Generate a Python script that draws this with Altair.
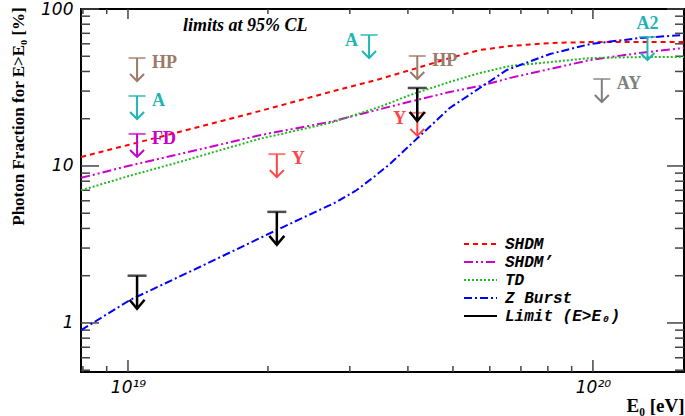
import altair as alt
import pandas as pd

# ---------------- data ----------------
series_names = ["SHDM", "SHDM’", "TD", "Z Burst", "Limit (E>E₀)"]
series_colors = ["#ff0000", "#cc00cc", "#22bb22", "#0000ff", "#000000"]
series_dash = [[5, 4], [9, 3, 2, 3, 2, 3], [2, 2], [8, 3, 2, 3], [1, 0]]

shdm_E = [7.93e18, 1.0e19, 1.5e19, 2.0e19, 2.72e19, 3.48e19, 4.19e19, 4.92e19,
          5.71e19, 6.64e19, 8.09e19, 9.86e19, 1.57e20]
shdm_f = [11.4, 13.6, 18.5, 23.1, 29.6, 35.8, 42.1, 48.7, 54.8, 58.1, 60.7, 61.6, 61.6]

shdm2_E = [7.93e18, 1.0e19, 1.5e19, 1.92e19, 2.72e19, 3.85e19, 4.92e19, 5.71e19,
           6.64e19, 8.09e19, 9.86e19, 1.26e20, 1.57e20]
shdm2_f = [8.4, 10.0, 13.2, 15.7, 19.1, 24.8, 29.6, 32.3, 36.4, 41.5, 47.3, 52.5, 56.5]

td_E = [7.93e18, 1.0e19, 1.29e19, 1.92e19, 2.72e19, 3.48e19, 4.04e19, 4.92e19,
        5.71e19, 6.64e19, 8.09e19, 9.86e19, 1.26e20, 1.57e20]
td_f = [7.0, 8.6, 10.6, 14.9, 18.8, 23.8, 28.3, 34.3, 39.1, 43.4, 45.9, 48.7, 49.4, 49.4]

zb_E = [7.93e18, 1.01e19, 1.43e19, 2.09e19, 2.81e19, 3.1e19, 3.36e19, 3.66e19, 4.19e19,
        4.92e19, 5.71e19, 6.53e19, 8.09e19, 9.86e19, 1.26e20, 1.57e20]
zb_f = [0.90, 1.40, 2.28, 3.91, 5.9, 7.0, 8.4, 10.3, 15.0, 23.4, 31.4, 40.9, 51.7, 59.8, 65.3, 68.3]

# Auger limits (E > E0), 95% CL
limit_E = [1.046e19, 2.09e19, 4.19e19]
limit_f = [2.0, 5.1, 31.4]

# other experiments' limits
exp_name = ["HP", "A", "FD", "Y", "A", "HP", "Y", "A2", "AY"]
exp_E = [1.046e19, 1.046e19, 1.046e19, 2.09e19, 3.30e19, 4.19e19, 4.19e19, 1.31e20, 1.045e20]
exp_f = [48.7, 27.9, 16.0, 11.9, 68.3, 50.2, 21.8, 66.3, 35.8]
exp_side = ["right", "right", "right", "right", "left", "right", "left", "above", "right"]
exp_domain = ["HP", "A", "FD", "Y", "A2", "AY"]
exp_colors = ["#9c7a6a", "#1fb5b5", "#c800c8", "#ff4444", "#1fb5b5", "#7f7f7f"]

# axis ticks / labels
x_label_values = [1e19, 1e20]
x_major = [1e19, 1e20]
x_minor = [8e18, 9e18, 2e19, 3e19, 4e19, 5e19, 6e19, 7e19, 8e19, 9e19]
y_major = [1, 10, 100]
y_minor = [0.5, 0.6, 0.7, 0.8, 0.9, 2, 3, 4, 5, 6, 7, 8, 9,
           20, 30, 40, 50, 60, 70, 80, 90]

# ---------------- frames ----------------
rows = []
for name, E, f in [(series_names[0], shdm_E, shdm_f), (series_names[1], shdm2_E, shdm2_f),
                   (series_names[2], td_E, td_f), (series_names[3], zb_E, zb_f)]:
    for e, v in zip(E, f):
        rows.append({"series": name, "E": e, "f": v})
lines_df = pd.DataFrame(rows)
limit_df = pd.DataFrame({"E": limit_E, "f": limit_f})
exp_df = pd.DataFrame({"name": exp_name, "E": exp_E, "f": exp_f, "side": exp_side})
xmaj_df = pd.DataFrame({"E": x_major})
xmin_df = pd.DataFrame({"E": x_minor})
ymaj_df = pd.DataFrame({"f": y_major})
ymin_df = pd.DataFrame({"f": y_minor})

W, H = 603, 363
xs = alt.Scale(type="log", domain=[7.924e18, 1.570e20], nice=False)
ys = alt.Scale(type="log", domain=[0.487, 100], nice=False)

x_axis = alt.Axis(values=x_label_values,
                  labelExpr="datum.value < 5e19 ? '10¹⁹' : '10²⁰'",
                  ticks=False, domain=False, grid=False, labelOverlap=False,
                  labelFont="DejaVu Sans", labelFontStyle="italic", labelFontSize=17,
                  labelColor="black", labelPadding=7,
                  title="E₀ [eV]", titleFont="Liberation Serif", titleFontWeight="bold",
                  titleFontSize=19, titleColor="black", titleX=W, titleY=33,
                  titleAlign="right", titleBaseline="middle")
y_axis = alt.Axis(values=y_major, labelExpr="'' + datum.value",
                  ticks=False, domain=False, grid=False, labelOverlap=False,
                  labelFont="DejaVu Sans", labelFontStyle="italic", labelFontSize=17,
                  labelColor="black", labelPadding=8, labelBaseline="middle",
                  title="Photon Fraction for E>E₀ [%]", titleFont="Liberation Serif",
                  titleFontWeight="bold", titleFontSize=17, titleColor="black",
                  titleX=-63, titleY=107, titleAngle=270, titleAlign="center",
                  titleBaseline="middle")

X0 = alt.X("E:Q", scale=xs, axis=x_axis)
Y0 = alt.Y("f:Q", scale=ys, axis=y_axis)

tick_color = "#444444"
layers = []
# y ticks (left and right)
for df, ln_l, ln_r in [(ymaj_df, 18, 17), (ymin_df, 9, 9)]:
    layers.append(alt.Chart(df).mark_rule(color=tick_color, strokeWidth=1.5).encode(
        y=Y0, x=alt.value(0), x2=alt.value(ln_l)))
    layers.append(alt.Chart(df).mark_rule(color=tick_color, strokeWidth=1.5).encode(
        y=Y0, x=alt.value(W - ln_r), x2=alt.value(W)))
# x ticks (bottom and top)
for df, ln_b, ln_t in [(xmaj_df, 12, 10), (xmin_df, 6, 5)]:
    layers.append(alt.Chart(df).mark_rule(color=tick_color, strokeWidth=1.5).encode(
        x=X0, y=alt.value(H - ln_b), y2=alt.value(H)))
    layers.append(alt.Chart(df).mark_rule(color=tick_color, strokeWidth=1.5).encode(
        x=X0, y=alt.value(0), y2=alt.value(ln_t)))

legend = alt.Legend(orient="none", legendX=382, legendY=226, title=None,
                    symbolType="stroke", symbolSize=1089, symbolStrokeWidth=2,
                    labelFont="Liberation Mono", labelFontStyle="italic",
                    labelFontWeight="bold", labelFontSize=16, labelColor="black",
                    labelOffset=7, clipHeight=18, rowPadding=0, padding=0,
                    labelLimit=300)

curves = alt.Chart(lines_df).mark_line(strokeWidth=2, clip=True).encode(
    x=X0, y=Y0,
    color=alt.Color("series:N", scale=alt.Scale(domain=series_names, range=series_colors),
                    legend=legend),
    strokeDash=alt.StrokeDash("series:N", scale=alt.Scale(domain=series_names, range=series_dash),
                              legend=legend),
    detail="series:N",
)
layers.append(curves)

exp_color = alt.Color("name:N", scale=alt.Scale(domain=exp_domain, range=exp_colors), legend=None)
EXP_LEN = 23
exp = alt.Chart(exp_df)
layers.append(exp.mark_rule(strokeWidth=2, y2Offset=EXP_LEN).encode(
    x=X0, y=Y0, y2="f:Q", color=exp_color))
layers.append(exp.mark_tick(orient="horizontal", size=17, thickness=2).encode(
    x=X0, y=Y0, color=exp_color))
layers.append(exp.mark_point(shape="M-1,-1L0,0L1,-1", size=196, yOffset=EXP_LEN,
                             strokeWidth=2, filled=False, opacity=1).encode(
    x=X0, y=Y0, color=exp_color))

LIM_LEN = 33
lim = alt.Chart(limit_df)
layers.append(lim.mark_rule(strokeWidth=2.5, color="black", y2Offset=LIM_LEN).encode(
    x=X0, y=Y0, y2="f:Q"))
layers.append(lim.mark_tick(orient="horizontal", size=19, thickness=2.5, color="black").encode(
    x=X0, y=Y0))
layers.append(lim.mark_point(shape="M-1,-1.2L0,0L1,-1.2", size=225, yOffset=LIM_LEN,
                             strokeWidth=2.5, color="black", filled=False, opacity=1).encode(
    x=X0, y=Y0))

lab_font = dict(font="Liberation Serif", fontWeight="bold", fontSize=18)
layers.append(exp.transform_filter(alt.datum.side == "right").mark_text(
    align="left", baseline="middle", dx=15, dy=5, **lab_font).encode(
    x=X0, y=Y0, text="name:N", color=exp_color))
layers.append(exp.transform_filter(alt.datum.side == "left").mark_text(
    align="right", baseline="middle", dx=-11, dy=6, **lab_font).encode(
    x=X0, y=Y0, text="name:N", color=exp_color))
layers.append(exp.transform_filter(alt.datum.side == "above").mark_text(
    align="center", baseline="middle", dx=0, dy=-13, **lab_font).encode(
    x=X0, y=Y0, text="name:N", color=exp_color))

chart = alt.layer(*layers).resolve_scale(
    color="independent", strokeDash="independent"
).properties(
    width=W, height=H,
    background="white",
    title=alt.TitleParams("limits at 95% CL", anchor="start", frame="group", dx=102,
                          dy=10, offset=-25, baseline="top", font="Liberation Serif",
                          fontStyle="italic", fontWeight="bold", fontSize=18,
                          color="black"),
    autosize=alt.AutoSizeParams(type="none"),
    padding={"left": 81, "top": 9, "right": 1, "bottom": 44},
).configure_view(stroke="black", strokeWidth=2)

chart.save("out.html", embed_options={"renderer": "svg", "actions": False})
